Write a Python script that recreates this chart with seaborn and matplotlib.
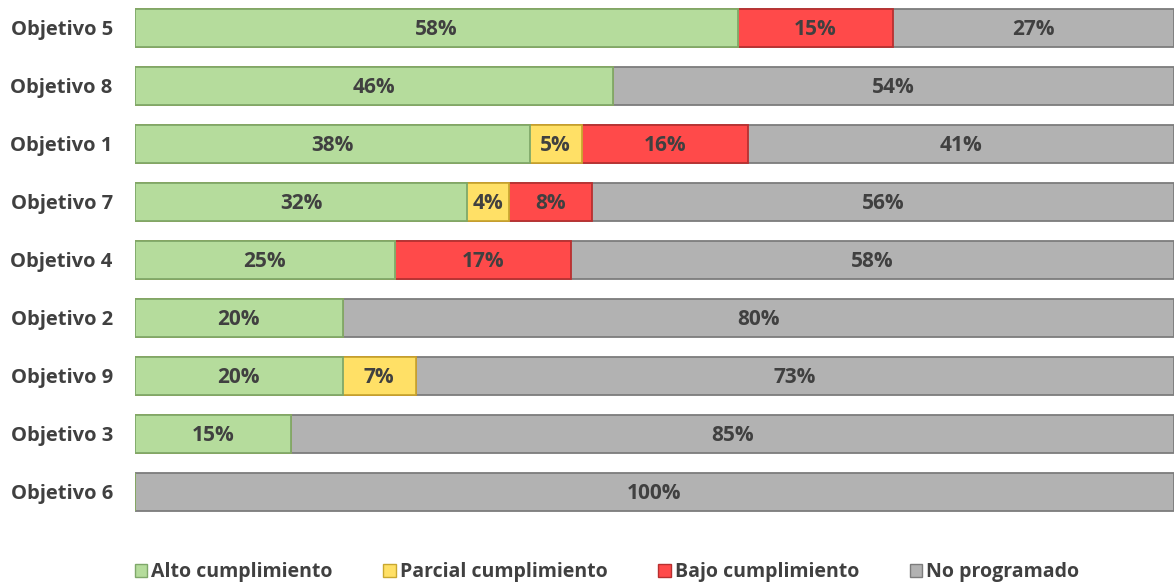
import numpy as np
import pandas as pd
import matplotlib
matplotlib.use("Agg")
import matplotlib.pyplot as plt
import seaborn as sns
from matplotlib.patches import Patch

categories = ["Objetivo 5", "Objetivo 8", "Objetivo 1", "Objetivo 7", "Objetivo 4",
              "Objetivo 2", "Objetivo 9", "Objetivo 3", "Objetivo 6"]
alto = [58, 46, 38, 32, 25, 20, 20, 15, 0]
parcial = [0, 0, 5, 4, 0, 0, 7, 0, 0]
bajo = [15, 0, 16, 8, 17, 0, 0, 0, 0]
no_prog = [27, 54, 41, 56, 58, 80, 73, 85, 100]

series_names = ["Alto cumplimiento", "Parcial cumplimiento", "Bajo cumplimiento", "No programado"]
colors = ["#b5dc9c", "#ffe066", "#ff4a4a", "#b2b2b2"]
edges = ["#7fa86a", "#c9a830", "#b83030", "#7c7c7c"]

sns.set_theme(style="white")
plt.rcParams["font.family"] = ["Open Sans", "DejaVu Sans"]

df = pd.DataFrame({"cat": categories, "alto": alto, "parcial": parcial,
                   "bajo": bajo, "no": no_prog})
cols = ["alto", "parcial", "bajo", "no"]
cum = df[cols].cumsum(axis=1)

fig = plt.figure(figsize=(11.76, 5.85), dpi=100)
ax = fig.add_axes([135 / 1176, 1 - 521 / 585, 1039 / 1176, 522 / 585])

for i in reversed(range(4)):
    c = cols[i]
    sns.barplot(x=cum[c], y=df["cat"], orient="h", color=colors[i], width=0.64,
                edgecolor=edges[i], linewidth=1.3, ax=ax, saturation=1)

for r in range(len(categories)):
    start = 0
    for c in cols:
        v = df.loc[r, c]
        if v > 0:
            ax.text(start + v / 2, r + 0.02, f"{v}%", ha="center", va="center",
                    fontsize=15, fontweight="bold", color="#404040")
        start += v

ax.set_xlim(0, 100)
ax.set_ylim(8.5, -0.5)
ax.set_xlabel("")
ax.set_ylabel("")
ax.set_xticks([])
for s in ax.spines.values():
    s.set_visible(False)
ax.tick_params(axis="y", length=0, pad=16)
for lbl in ax.get_yticklabels():
    lbl.set_fontsize(14.5)
    lbl.set_fontweight("bold")
    lbl.set_color("#404040")

handles = [Patch(facecolor=colors[i], edgecolor=edges[i], label=series_names[i]) for i in range(4)]
leg = fig.legend(handles=handles, loc="center", bbox_to_anchor=(607 / 1176, 1 - 572 / 585),
                 ncol=4, frameon=False, handlelength=0.65, handleheight=0.65,
                 handletextpad=0.2, columnspacing=2.6,
                 prop={"size": 14, "weight": "bold"})
for t in leg.get_texts():
    t.set_color("#404040")

fig.savefig("out.png", dpi=100)
